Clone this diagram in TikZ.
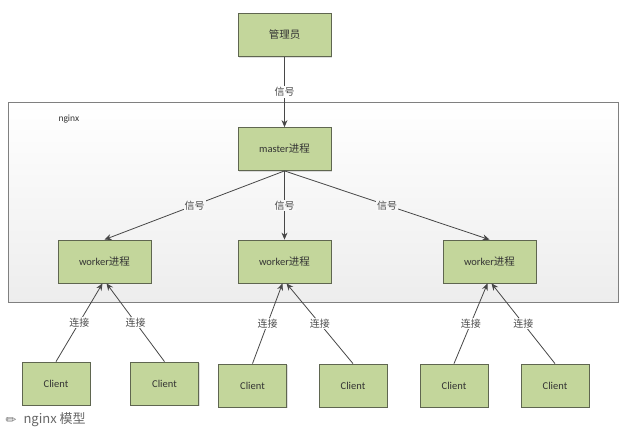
\documentclass[tikz,border=0pt]{standalone}
\usepackage{fontspec}
\setmainfont{Carlito}
\newfontfamily\cjk{Noto Sans CJK SC}
\newfontfamily\dejavu{DejaVu Sans}
\usetikzlibrary{arrows.meta,shadows}
\definecolor{boxgreen}{HTML}{C3D69B}
\definecolor{boxline}{HTML}{5F6650}

\begin{document}
\begin{tikzpicture}[x=1pt,y=-1pt,
  box/.style={draw=boxline,fill=boxgreen,line width=0.8pt,minimum width=93pt,minimum height=43pt,
    inner sep=0pt,text=black!80,font=\fontsize{10.5}{12}\selectfont,
    drop shadow={shadow xshift=1.2pt,shadow yshift=-1.2pt,opacity=0.25}},
  client/.style={box,minimum width=68pt},
  tag/.style={fill=white,inner sep=1pt,text=black!70,font=\cjk\fontsize{10}{12}\selectfont},
  sig/.style={-{Stealth[length=7pt,width=6pt]},draw=black!72,line width=0.8pt}]
\useasboundingbox (0,0) rectangle (626,429);
% nginx frame
\draw[draw=black!50,top color=white,bottom color=black!7] (8,102) rectangle (618,302);
\node[anchor=west,text=black!80,font=\fontsize{9.5}{11}\selectfont] (nginx) at (55,119) {nginx};
% processes
\node[box] (admin) at (284.5,35) {\cjk 管理员};
\node[box] (master) at (284.5,149) {master{\cjk 进程}};
\node[box] (w1) at (104.5,261.5) {worker{\cjk 进程}};
\node[box] (w2) at (284.5,261.5) {worker{\cjk 进程}};
\node[box] (w3) at (489.5,261.5) {worker{\cjk 进程}};
% clients
\node[client] (c1) at (56,383.5) {Client};
\node[client] (c2) at (164.5,383.5) {Client};
\node[client] (c3) at (252.5,385.5) {Client};
\node[client] (c4) at (353,385.5) {Client};
\node[client] (c5) at (454,385.5) {Client};
\node[client] (c6) at (555,385.5) {Client};
% signals
\draw[sig] (admin) -- node[tag] {信号} (master);
\foreach \w in {w1,w2,w3} {
  \draw[sig] (master.south) -- node[tag,fill=black!3] {信号} (\w.north);
}
% connections
\foreach \c/\w/\s in {c1/w1/-2,c2/w1/2,c3/w2/-2,c4/w2/2,c5/w3/-2,c6/w3/2} {
  \draw[sig] (\c.north) -- node[tag] {连接} ([xshift=\s pt]\w.south);
}
% caption
\node[text=black!55,font=\dejavu\fontsize{13}{14}\selectfont] (pencil) at (11,421) {✏};
\node[anchor=west,text=black!60,font=\cjk\fontsize{13}{15}\selectfont] (caption) at (20,420) {nginx 模型};
\end{tikzpicture}
\end{document}
